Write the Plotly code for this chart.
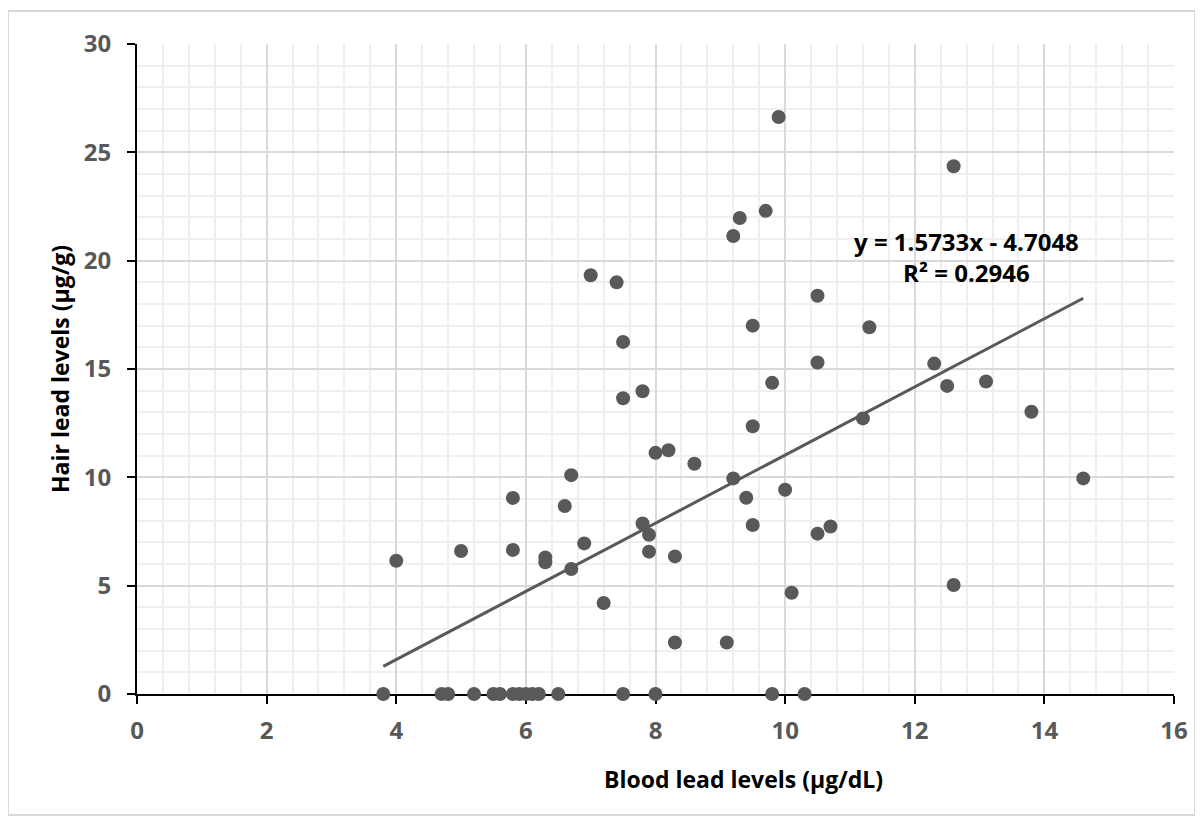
import plotly.graph_objects as go

# Blood lead levels (µg/dL) vs hair lead levels (µg/g)
blood = [4.0, 5.0, 5.8, 5.8, 6.3, 6.3, 6.7, 6.6, 6.7, 6.9,
         7.2, 7.0, 7.4, 7.5, 7.5, 7.8, 7.8, 7.9, 7.9, 8.0,
         8.2, 8.3, 8.3, 8.6, 9.1, 9.2, 9.3, 9.7, 9.9, 9.2,
         9.4, 9.5, 9.5, 9.5, 9.8, 10.0, 10.1, 10.5, 10.5, 10.5,
         10.7, 11.2, 11.3, 12.3, 12.5, 12.6, 12.6, 13.1, 13.8, 14.6,
         3.8, 4.7, 4.8, 5.2, 5.5, 5.6, 5.8, 5.9, 6.0, 6.1,
         6.2, 6.5, 7.5, 8.0, 9.8, 10.3]
hair = [6.15, 6.6, 9.05, 6.65, 6.3, 6.08, 10.1, 8.68, 5.77, 6.95,
        4.2, 19.33, 19.0, 16.25, 13.65, 13.97, 7.87, 7.35, 6.57, 11.13,
        11.25, 6.35, 2.38, 10.63, 2.38, 21.14, 21.97, 22.3, 26.63, 9.95,
        9.06, 17.0, 12.36, 7.8, 14.36, 9.43, 4.67, 18.38, 15.3, 7.4,
        7.73, 12.72, 16.93, 15.25, 14.22, 24.36, 5.03, 14.42, 13.03, 9.95,
        0, 0, 0, 0, 0, 0, 0, 0, 0, 0,
        0, 0, 0, 0, 0, 0]

slope = 1.5733
intercept = -4.7048
trend_x = [min(blood), max(blood)]
trend_y = [slope * v + intercept for v in trend_x]

x_title = "Blood lead levels (µg/dL)"
y_title = "Hair lead levels (µg/g)"
eq_text = "y = 1.5733x - 4.7048<br>R² = 0.2946"

GREY = "#595959"
FONT = "Open Sans"

# plot area in page pixels (reference), page is offset by 8px body margin
L, R, T, B = 137, 1174, 44, 694
W, H = R - L, B - T
OFF = 8


def dx(px):
    return (px - L) / W


def dy(py):
    return (B - py) / H


fig = go.Figure()
fig.add_trace(go.Scatter(x=trend_x, y=trend_y, mode="lines",
                         line=dict(color=GREY, width=3), hoverinfo="skip",
                         showlegend=False))
fig.add_trace(go.Scatter(x=blood, y=hair, mode="markers",
                         marker=dict(color=GREY, size=14, line=dict(width=0)),
                         cliponaxis=False, showlegend=False))

axis_common = dict(
    showline=True, linecolor="black", linewidth=2,
    ticks="outside", ticklen=8, tickwidth=2, tickcolor="black",
    showgrid=True, gridcolor="#d9d9d9", gridwidth=1.5,
    zeroline=False, layer="below traces",
    tickfont=dict(family=FONT, size=24, color=GREY, weight="bold"),
    fixedrange=True,
)

fig.update_xaxes(range=[0, 16], dtick=2, tick0=0,
                 minor=dict(dtick=0.4, showgrid=True, gridcolor="#efefef", gridwidth=1.5),
                 ticklabelstandoff=6, **axis_common)
fig.update_yaxes(range=[0, 30], dtick=5, tick0=0,
                 minor=dict(dtick=1, showgrid=True, gridcolor="#efefef", gridwidth=1.5),
                 ticklabelstandoff=11, **axis_common)

fig.add_annotation(text=eq_text, x=dx(966), y=dy(257), xref="x domain", yref="y domain",
                   xanchor="center", yanchor="middle", showarrow=False,
                   font=dict(family=FONT, size=24, color="black", weight="bold"),
                   align="center")
fig.add_annotation(text=x_title, x=dx(743), y=dy(779),
                   xref="x domain", yref="y domain", xanchor="center", yanchor="middle",
                   showarrow=False,
                   font=dict(family=FONT, size=23, color="black", weight="bold"))
fig.add_annotation(text=y_title, x=dx(60), y=dy(369),
                   xref="x domain", yref="y domain", xanchor="center", yanchor="middle",
                   showarrow=False, textangle=-90,
                   font=dict(family=FONT, size=23, color="black", weight="bold"))

# outer chart border
fig.add_shape(type="rect", xref="paper", yref="paper",
              x0=dx(8), x1=dx(1195), y0=dy(815), y1=dy(11),
              line=dict(color="#d9d9d9", width=2), layer="below")

fig.update_layout(
    width=1203, height=820,
    margin=dict(l=L - OFF, r=1203 - R + OFF, t=T - OFF, b=820 - B + OFF),
    paper_bgcolor="white", plot_bgcolor="white",
    font=dict(family=FONT),
)

fig.write_html("out.html")
